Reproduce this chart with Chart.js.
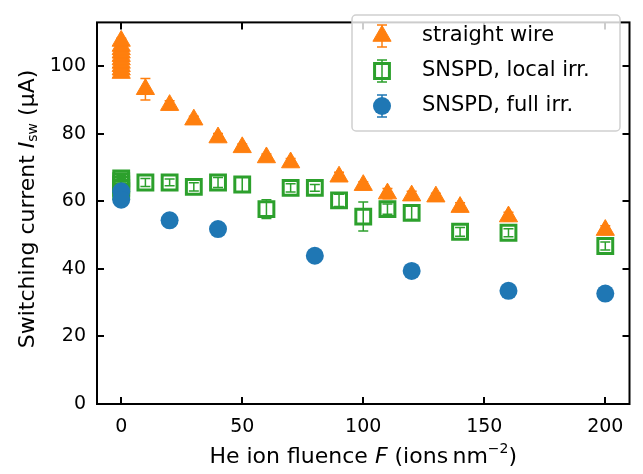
<!DOCTYPE html>
<html>
<head>
<meta charset="utf-8">
<script src="https://cdn.jsdelivr.net/npm/chart.js@4/dist/chart.umd.min.js"></script>
<style>
  html, body { margin: 0; padding: 0; background: #fff; }
  #wrap { width: 643px; height: 474px; }
</style>
</head>
<body>
<div id="wrap"><canvas id="chart" width="643" height="474"></canvas></div>
<script>
// fluence (ions/nm^2) and switching current (uA)
const wireF = [0, 0, 0, 0, 0, 0, 0, 0, 0, 0, 10, 20, 30, 40, 50, 60, 70, 90, 100, 110, 120, 130, 140, 160, 200];
const wireI = [98, 99, 100, 101, 102, 103, 104, 105, 106, 107.5, 93.2, 88.5, 84.2, 78.9, 76, 73, 71.5, 67.3, 64.8, 62.3, 61.7, 61.4, 58.3, 55.5, 51.5];
const wireErr = [0.8, 0.8, 0.8, 0.8, 0.8, 0.8, 0.8, 0.8, 0.8, 0.8, 3.2, 1.3, 1, 1.2, 1, 1, 1.2, 1.3, 1, 1.5, 1.3, 1, 1.3, 1.3, 1.3];

const localF = [0, 0, 0, 0, 0, 10, 20, 30, 40, 50, 60, 70, 80, 90, 100, 110, 120, 140, 160, 200];
const localI = [63, 64, 65, 66, 66.8, 65.6, 65.6, 64.3, 65.6, 65, 57.7, 64, 64, 60.3, 55.5, 57.7, 56.6, 51, 50.7, 46.8];
const localErr = [0.8, 0.8, 0.8, 0.8, 0.8, 1.2, 1, 1.2, 1.5, 2.3, 2.8, 1.2, 1, 1.8, 4.3, 1.5, 2, 1.3, 1.2, 1.2];

const fullF = [0, 0, 20, 40, 80, 120, 160, 200];
const fullI = [63, 60.5, 54.4, 51.8, 43.9, 39.4, 33.5, 32.7];
const fullErr = [0.5, 0.5, 0.5, 0.5, 0.5, 0.5, 0.5, 0.5];

const xTicks = [0, 50, 100, 150, 200];
const yTicks = [0, 20, 40, 60, 80, 100];

const seriesNames = ['straight wire', 'SNSPD, local irr.', 'SNSPD, full irr.'];
const orange = '#ff7f0e', green = '#2ca02c', blue = '#1f77b4';
const FONT = '"DejaVu Sans", sans-serif';

function pts(xs, ys, es) {
  return xs.map((x, i) => ({ x: x, y: ys[i], err: es[i] }));
}

// error bars under the markers
const errorBars = {
  id: 'errorBars',
  beforeDatasetsDraw(chart) {
    const ctx = chart.ctx;
    const xs = chart.scales.x, ys = chart.scales.y;
    chart.data.datasets.forEach(ds => {
      ctx.save();
      ctx.strokeStyle = ds.borderColor;
      ctx.lineWidth = 1.5;
      ds.data.forEach(p => {
        const px = xs.getPixelForValue(p.x);
        const y1 = ys.getPixelForValue(p.y - p.err);
        const y2 = ys.getPixelForValue(p.y + p.err);
        ctx.beginPath();
        ctx.moveTo(px, y1); ctx.lineTo(px, y2);
        ctx.moveTo(px - 5, y1); ctx.lineTo(px + 5, y1);
        ctx.moveTo(px - 5, y2); ctx.lineTo(px + 5, y2);
        ctx.stroke();
      });
      ctx.restore();
    });
  }
};

function drawRuns(ctx, runs, cx, cy) {
  let total = 0;
  runs.forEach(r => { ctx.font = r.font; r.w = ctx.measureText(r.text).width; total += r.w; });
  let x = cx - total / 2;
  ctx.textBaseline = 'middle';
  ctx.textAlign = 'left';
  runs.forEach(r => {
    ctx.font = r.font;
    ctx.fillText(r.text, x, cy + (r.dy || 0));
    x += r.w;
  });
}

// frame, inward ticks, axis titles and legend
const decor = {
  id: 'decor',
  afterDraw(chart) {
    const ctx = chart.ctx;
    const a = chart.chartArea;
    const xs = chart.scales.x, ys = chart.scales.y;
    ctx.save();
    ctx.strokeStyle = '#000';
    ctx.lineWidth = 2;
    ctx.beginPath();
    xTicks.forEach(v => {
      const px = Math.round(xs.getPixelForValue(v));
      ctx.moveTo(px, a.bottom); ctx.lineTo(px, a.bottom - 7);
      ctx.moveTo(px, a.top); ctx.lineTo(px, a.top + 7);
    });
    yTicks.forEach(v => {
      const py = Math.round(ys.getPixelForValue(v));
      ctx.moveTo(a.left, py); ctx.lineTo(a.left + 7, py);
      ctx.moveTo(a.right, py); ctx.lineTo(a.right - 7, py);
    });
    ctx.stroke();
    ctx.strokeRect(a.left, a.top, a.right - a.left, a.bottom - a.top);

    ctx.fillStyle = '#000';
    const big = '22px ' + FONT, ital = 'italic 22px ' + FONT, small = '14px ' + FONT;
    drawRuns(ctx, [
      { text: 'He ion fluence ', font: big },
      { text: 'F', font: ital },
      { text: ' (ions\u2009nm', font: big },
      { text: '\u22122', font: small, dy: -8 },
      { text: ')', font: big }
    ], (a.left + a.right) / 2, 457);

    ctx.save();
    ctx.translate(28, 209);
    ctx.rotate(-Math.PI / 2);
    drawRuns(ctx, [
      { text: 'Switching current ', font: big },
      { text: 'I', font: ital },
      { text: 'sw', font: small, dy: 5 },
      { text: ' (\u00b5A)', font: big }
    ], 0, 0);
    ctx.restore();

    // legend box
    const lx = 352, ly = 15, lw = 268, lh = 116;
    ctx.fillStyle = 'rgba(255,255,255,0.8)';
    ctx.strokeStyle = '#d0d0d0';
    ctx.lineWidth = 1.5;
    ctx.beginPath();
    ctx.roundRect(lx, ly, lw, lh, 4);
    ctx.fill();
    ctx.stroke();
    const styles = ['triangle', 'rect', 'circle'];
    const colors = [orange, green, blue];
    seriesNames.forEach((name, i) => {
      const cy = 36 + i * 35;
      const mx = 382;
      ctx.strokeStyle = colors[i];
      ctx.lineWidth = 1.5;
      ctx.beginPath();
      ctx.moveTo(mx, cy - 11); ctx.lineTo(mx, cy + 11);
      ctx.moveTo(mx - 5, cy - 11); ctx.lineTo(mx + 5, cy - 11);
      ctx.moveTo(mx - 5, cy + 11); ctx.lineTo(mx + 5, cy + 11);
      ctx.stroke();
      const ds = chart.data.datasets[i];
      ctx.fillStyle = ds.backgroundColor;
      ctx.strokeStyle = colors[i];
      ctx.lineWidth = ds.borderWidth;
      Chart.helpers.drawPoint(ctx, {
        pointStyle: styles[i],
        radius: ds.pointRadius,
        borderWidth: ds.borderWidth,
        rotation: 0
      }, mx, cy);
      ctx.fillStyle = '#000';
      ctx.font = '21px ' + FONT;
      ctx.textAlign = 'left';
      ctx.textBaseline = 'middle';
      ctx.fillText(name, 422, cy);
    });
    ctx.restore();
  }
};

new Chart(document.getElementById('chart'), {
  type: 'scatter',
  data: {
    datasets: [
      {
        label: seriesNames[0],
        data: pts(wireF, wireI, wireErr),
        pointStyle: 'triangle',
        pointRadius: 10.5,
        borderWidth: 1,
        backgroundColor: orange,
        borderColor: orange,
        order: 3
      },
      {
        label: seriesNames[1],
        data: pts(localF, localI, localErr),
        pointStyle: 'rect',
        pointRadius: 10.5,
        borderWidth: 3,
        backgroundColor: 'rgba(0,0,0,0)',
        borderColor: green,
        order: 2
      },
      {
        label: seriesNames[2],
        data: pts(fullF, fullI, fullErr),
        pointStyle: 'circle',
        pointRadius: 9,
        borderWidth: 0,
        backgroundColor: blue,
        borderColor: blue,
        order: 1
      }
    ]
  },
  options: {
    responsive: false,
    animation: false,
    layout: { padding: { left: 0, right: 10, top: 3, bottom: 0 } },
    plugins: { legend: { display: false }, tooltip: { enabled: false } },
    scales: {
      x: {
        type: 'linear',
        min: -10,
        max: 210,
        afterFit: s => { s.height = 70; },
        afterBuildTicks: s => { s.ticks = xTicks.map(v => ({ value: v })); },
        grid: { display: false, drawTicks: false },
        border: { display: false },
        ticks: { padding: 12, color: '#000', font: { family: FONT, size: 19 } }
      },
      y: {
        type: 'linear',
        min: 0,
        max: 113,
        afterFit: s => { s.width = 97; },
        afterBuildTicks: s => { s.ticks = yTicks.map(v => ({ value: v })); },
        grid: { display: false, drawTicks: false },
        border: { display: false },
        ticks: { padding: 11, color: '#000', font: { family: FONT, size: 19 } }
      }
    }
  },
  plugins: [errorBars, decor]
});
</script>
</body>
</html>
